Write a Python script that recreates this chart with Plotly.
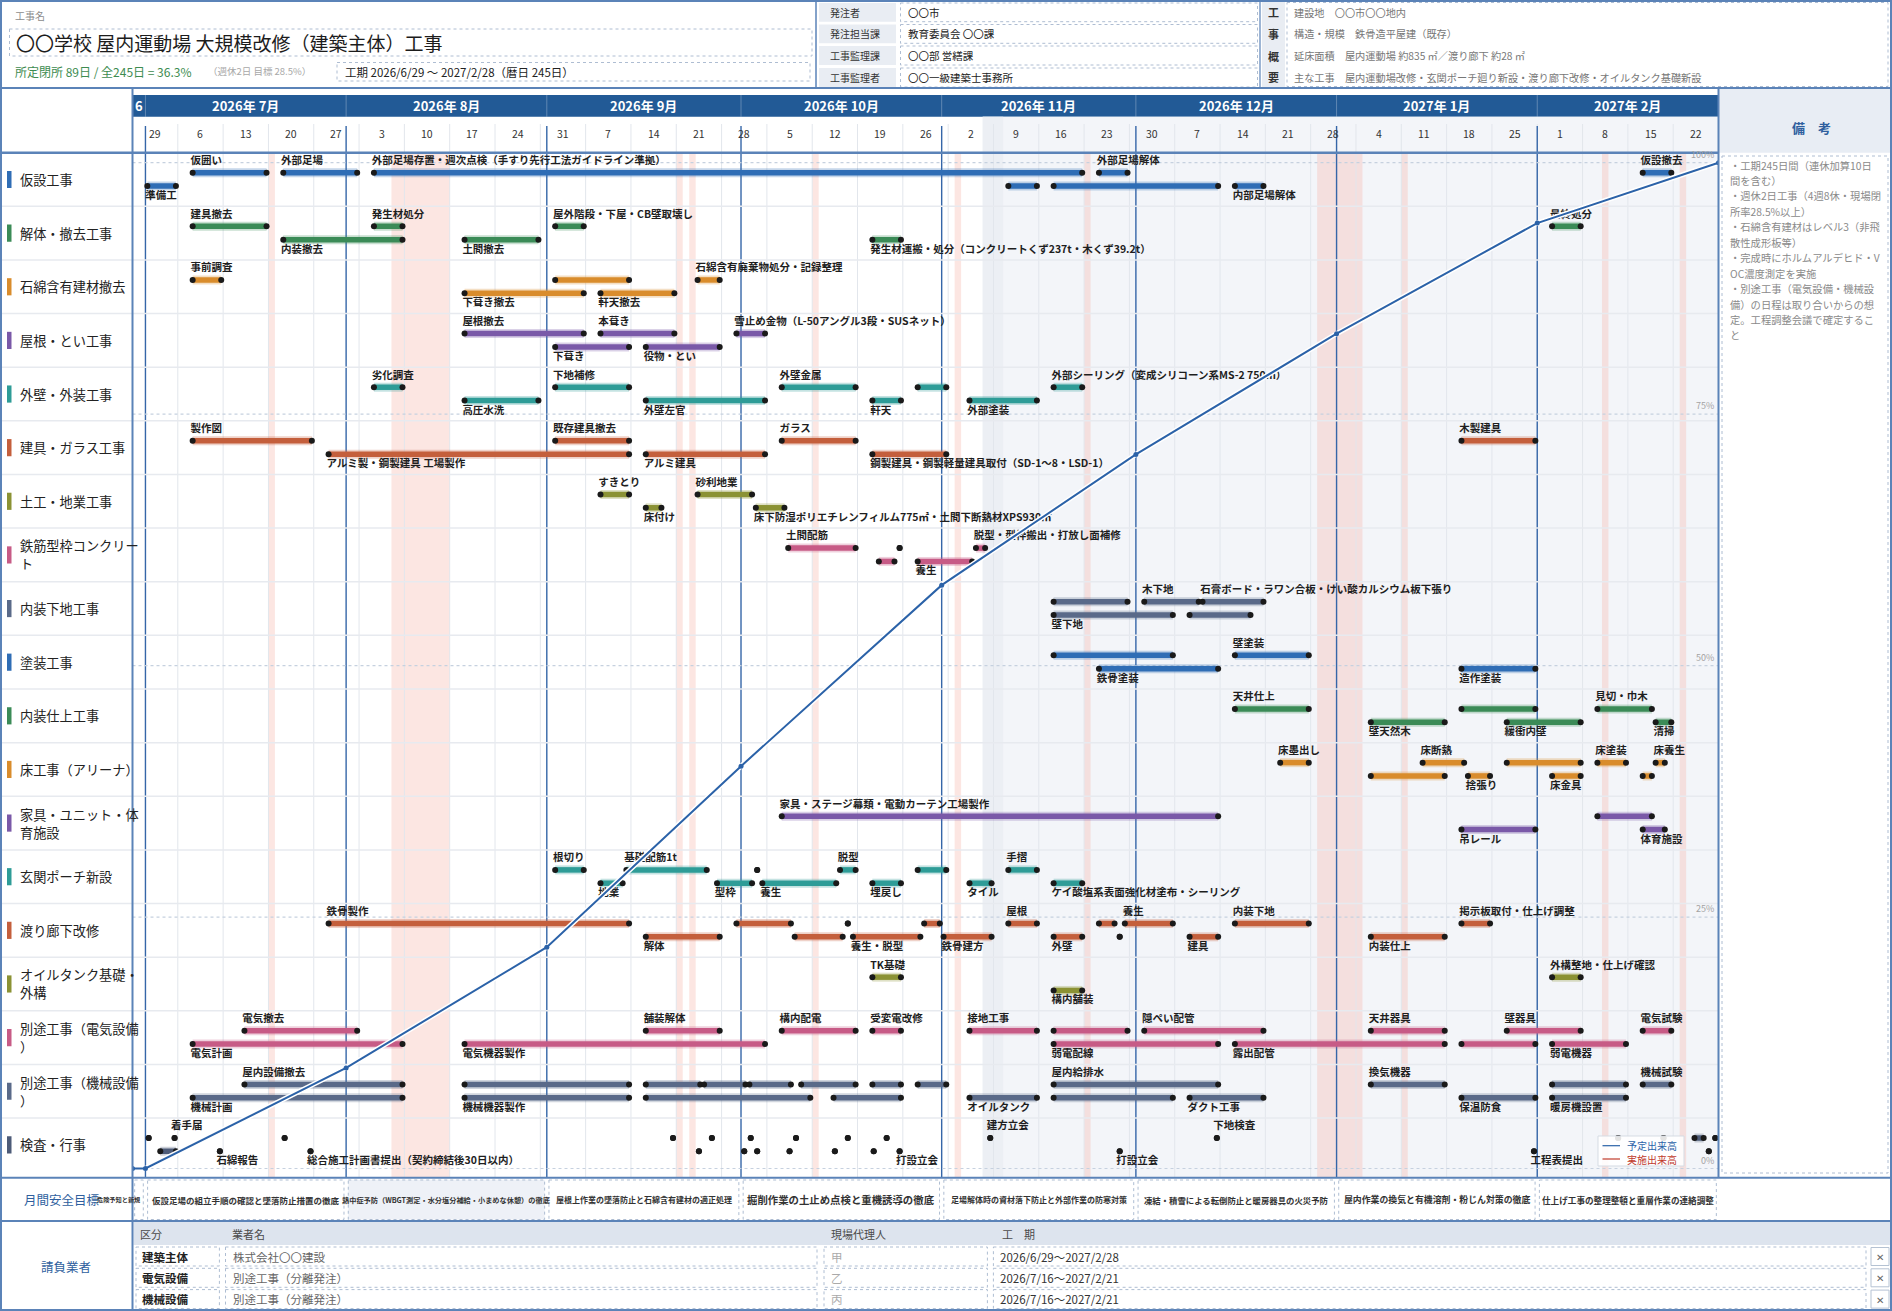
import pandas as pd
import plotly.graph_objects as go

W, H = 1892, 1311
FONT = "Noto Sans CJK JP"

# ============================ data ============================
PROJECT_LABEL = "工事名"
PROJECT_NAME = "〇〇学校 屋内運動場 大規模改修（建築主体）工事"
CLOSURE_TEXT = "所定閉所 89日 / 全245日 = 36.3%"
CLOSURE_SUB = "（週休2日 目標 28.5%）"
PERIOD_TEXT = "工期 2026/6/29 ～ 2027/2/28（暦日 245日）"

ORDER_LABELS = ["発注者", "発注担当課", "工事監理課", "工事監理者"]
ORDER_VALUES = ["〇〇市", "教育委員会 〇〇課", "〇〇部 営繕課", "〇〇一級建築士事務所"]
OUTLINE_HEAD = ["工", "事", "概", "要"]
OUTLINE_LINES = [
    "建設地　〇〇市〇〇地内",
    "構造・規模　鉄骨造平屋建（既存）",
    "延床面積　屋内運動場 約835 ㎡／渡り廊下 約28 ㎡",
    "主な工事　屋内運動場改修・玄関ポーチ廻り新設・渡り廊下改修・オイルタンク基礎新設",
]

MONTH_LABELS = ["6", "2026年 7月", "2026年 8月", "2026年 9月", "2026年 10月",
                "2026年 11月", "2026年 12月", "2027年 1月", "2027年 2月"]
MONTH_BOUNDS = ["2026-06-29", "2026-07-01", "2026-08-01", "2026-09-01", "2026-10-01",
                "2026-11-01", "2026-12-01", "2027-01-01", "2027-02-01", "2027-03-01"]
WEEK_LABELS = ["29", "6", "13", "20", "27", "3", "10", "17", "24", "31", "7", "14", "21", "28",
               "5", "12", "19", "26", "2", "9", "16", "23", "30", "7", "14", "21", "28",
               "4", "11", "18", "25", "1", "8", "15", "22"]
FIRST_WEEK = "2026-06-29"

HOLIDAYS = [("2026-07-20", "2026-07-20"), ("2026-08-08", "2026-08-16"),
            ("2026-09-21", "2026-09-21"), ("2026-09-23", "2026-09-23"),
            ("2026-10-12", "2026-10-12"), ("2026-11-03", "2026-11-03"),
            ("2026-11-23", "2026-11-23"), ("2026-12-29", "2027-01-04"),
            ("2027-01-11", "2027-01-11"), ("2027-02-11", "2027-02-11"),
            ("2027-02-23", "2027-02-23")]
SHADE_FROM = "2026-11-07"

ROWS = ["仮設工事", "解体・撤去工事", "石綿含有建材撤去", "屋根・とい工事", "外壁・外装工事",
        "建具・ガラス工事", "土工・地業工事", "鉄筋型枠コンクリート", "内装下地工事", "塗装工事",
        "内装仕上工事", "床工事（アリーナ）", "家具・ユニット・体育施設", "玄関ポーチ新設",
        "渡り廊下改修", "オイルタンク基礎・外構", "別途工事（電気設備）", "別途工事（機械設備）",
        "検査・行事"]

T01 = [("u", "2026-07-08", "2026-07-19", "仮囲い"),
       ("u", "2026-07-22", "2026-08-02", "外部足場"),
       ("u", "2026-08-05", "2026-11-22", "外部足場存置・週次点検（手すり先行工法ガイドライン準拠）"),
       ("u", "2026-11-25", "2026-11-29", "外部足場解体"),
       ("u", "2027-02-17", "2027-02-21", "仮設撤去"),
       ("l", "2026-07-01", "2026-07-05", "準備工"),
       ("l", "2026-11-11", "2026-11-15", ""),
       ("l", "2026-11-18", "2026-12-13", ""),
       ("l", "2026-12-16", "2026-12-20", "内部足場解体")]
T02 = [("u", "2026-07-08", "2026-07-19", "建具撤去"),
       ("u", "2026-08-05", "2026-08-09", "発生材処分"),
       ("u", "2026-09-02", "2026-09-06", "屋外階段・下屋・CB壁取壊し"),
       ("u", "2027-02-03", "2027-02-07", "最終処分"),
       ("l", "2026-07-22", "2026-08-09", "内装撤去"),
       ("l", "2026-08-19", "2026-08-30", "土間撤去"),
       ("l", "2026-10-21", "2026-10-25", "発生材運搬・処分（コンクリートくず237t・木くず39.2t）")]
T03 = [("u", "2026-07-08", "2026-07-12", "事前調査"),
       ("u", "2026-09-02", "2026-09-13", ""),
       ("u", "2026-09-24", "2026-09-27", "石綿含有廃棄物処分・記録整理"),
       ("l", "2026-08-19", "2026-09-06", "下葺き撤去"),
       ("l", "2026-09-09", "2026-09-20", "軒天撤去")]
T04 = [("u", "2026-08-19", "2026-09-06", "屋根撤去"),
       ("u", "2026-09-09", "2026-09-20", "本葺き"),
       ("u", "2026-09-30", "2026-10-04", "雪止め金物（L-50アングル3段・SUSネット）"),
       ("l", "2026-09-02", "2026-09-13", "下葺き"),
       ("l", "2026-09-16", "2026-09-27", "役物・とい")]
T05 = [("u", "2026-08-05", "2026-08-09", "劣化調査"),
       ("u", "2026-09-02", "2026-09-13", "下地補修"),
       ("u", "2026-10-07", "2026-10-18", "外壁金属"),
       ("u", "2026-10-28", "2026-11-01", ""),
       ("u", "2026-11-18", "2026-11-22", "外部シーリング（変成シリコーン系MS-2 750m）"),
       ("l", "2026-08-19", "2026-08-30", "高圧水洗"),
       ("l", "2026-09-16", "2026-10-04", "外壁左官"),
       ("l", "2026-10-21", "2026-10-25", "軒天"),
       ("l", "2026-11-05", "2026-11-15", "外部塗装")]
T06 = [("u", "2026-07-08", "2026-07-26", "製作図"),
       ("u", "2026-09-02", "2026-09-13", "既存建具撤去"),
       ("u", "2026-10-07", "2026-10-18", "ガラス"),
       ("u", "2027-01-20", "2027-01-31", "木製建具"),
       ("l", "2026-07-29", "2026-09-13", "アルミ製・鋼製建具 工場製作"),
       ("l", "2026-09-16", "2026-10-04", "アルミ建具"),
       ("l", "2026-10-21", "2026-11-01", "鋼製建具・鋼製軽量建具取付（SD-1～8・LSD-1）")]
T07 = [("u", "2026-09-09", "2026-09-13", "すきとり"),
       ("u", "2026-09-24", "2026-10-02", "砂利地業"),
       ("l", "2026-09-16", "2026-09-18", "床付け"),
       ("l", "2026-10-03", "2026-10-07", "床下防湿ポリエチレンフィルム775㎡・土間下断熱材XPS930㎡")]
T08 = [("u", "2026-10-08", "2026-10-18", "土間配筋"),
       ("u", "2026-10-25", "2026-10-25", ""),
       ("u", "2026-11-06", "2026-11-07", "脱型・型枠搬出・打放し面補修"),
       ("l", "2026-10-22", "2026-10-24", ""),
       ("l", "2026-10-28", "2026-11-05", "養生")]
T09 = [("u", "2026-11-18", "2026-11-29", ""),
       ("u", "2026-12-02", "2026-12-10", "木下地"),
       ("u", "2026-12-11", "2026-12-20", "石膏ボード・ラワン合板・けい酸カルシウム板下張り"),
       ("l", "2026-11-18", "2026-12-06", "壁下地"),
       ("l", "2026-12-09", "2026-12-18", "")]
T10 = [("u", "2026-11-18", "2026-12-06", ""),
       ("u", "2026-12-16", "2026-12-27", "壁塗装"),
       ("l", "2026-11-25", "2026-12-13", "鉄骨塗装"),
       ("l", "2027-01-20", "2027-01-31", "造作塗装")]
T11 = [("u", "2026-12-16", "2026-12-27", "天井仕上"),
       ("u", "2027-01-20", "2027-01-31", ""),
       ("u", "2027-02-10", "2027-02-18", "見切・巾木"),
       ("l", "2027-01-06", "2027-01-17", "壁天然木"),
       ("l", "2027-01-27", "2027-02-07", "緩衝内壁"),
       ("l", "2027-02-19", "2027-02-21", "清掃")]
T12 = [("u", "2026-12-23", "2026-12-27", "床墨出し"),
       ("u", "2027-01-14", "2027-01-20", "床断熱"),
       ("u", "2027-01-27", "2027-02-07", ""),
       ("u", "2027-02-10", "2027-02-14", "床塗装"),
       ("u", "2027-02-19", "2027-02-20", "床養生"),
       ("l", "2027-01-06", "2027-01-17", ""),
       ("l", "2027-01-21", "2027-01-24", "捨張り"),
       ("l", "2027-02-03", "2027-02-07", "床金具"),
       ("l", "2027-02-17", "2027-02-18", "")]
T13 = [("u", "2026-10-07", "2026-12-13", "家具・ステージ幕類・電動カーテン工場製作"),
       ("u", "2027-02-10", "2027-02-18", ""),
       ("l", "2027-01-20", "2027-01-31", "吊レール"),
       ("l", "2027-02-17", "2027-02-20", "体育施設")]
T14 = [("u", "2026-09-02", "2026-09-06", "根切り"),
       ("u", "2026-09-13", "2026-09-25", "基礎配筋1t"),
       ("u", "2026-10-03", "2026-10-03", ""),
       ("u", "2026-10-16", "2026-10-18", "脱型"),
       ("u", "2026-10-28", "2026-11-01", ""),
       ("u", "2026-11-11", "2026-11-15", "手摺"),
       ("l", "2026-09-09", "2026-09-12", "地業"),
       ("l", "2026-09-27", "2026-10-02", "型枠"),
       ("l", "2026-10-04", "2026-10-15", "養生"),
       ("l", "2026-10-21", "2026-10-25", "埋戻し"),
       ("l", "2026-11-05", "2026-11-08", "タイル"),
       ("l", "2026-11-18", "2026-11-22", "ケイ酸塩系表面強化材塗布・シーリング")]
T15 = [("u", "2026-07-29", "2026-09-13", "鉄骨製作"),
       ("u", "2026-09-30", "2026-10-08", ""),
       ("u", "2026-10-17", "2026-10-17", ""),
       ("u", "2026-10-29", "2026-10-31", ""),
       ("u", "2026-11-11", "2026-11-15", "屋根"),
       ("u", "2026-11-25", "2026-11-27", ""),
       ("u", "2026-11-29", "2026-12-06", "養生"),
       ("u", "2026-12-16", "2026-12-27", "内装下地"),
       ("u", "2027-01-20", "2027-01-24", "掲示板取付・仕上げ調整"),
       ("l", "2026-09-16", "2026-09-27", "解体"),
       ("l", "2026-10-09", "2026-10-16", ""),
       ("l", "2026-10-18", "2026-10-28", "養生・脱型"),
       ("l", "2026-11-01", "2026-11-08", "鉄骨建方"),
       ("l", "2026-11-18", "2026-11-22", "外壁"),
       ("l", "2026-11-28", "2026-11-28", ""),
       ("l", "2026-12-09", "2026-12-13", "建具"),
       ("l", "2027-01-06", "2027-01-17", "内装仕上")]
T16 = [("u", "2026-10-21", "2026-10-25", "TK基礎"),
       ("u", "2027-02-03", "2027-02-07", "外構整地・仕上げ確認"),
       ("l", "2026-11-18", "2026-11-22", "構内舗装")]
T17 = [("u", "2026-07-16", "2026-08-02", "電気撤去"),
       ("u", "2026-09-16", "2026-09-27", "舗装解体"),
       ("u", "2026-10-07", "2026-10-18", "構内配電"),
       ("u", "2026-10-21", "2026-10-25", "受変電改修"),
       ("u", "2026-11-05", "2026-11-15", "接地工事"),
       ("u", "2026-11-18", "2026-11-29", ""),
       ("u", "2026-12-02", "2026-12-20", "隠ぺい配管"),
       ("u", "2027-01-06", "2027-01-17", "天井器具"),
       ("u", "2027-01-27", "2027-02-07", "壁器具"),
       ("u", "2027-02-17", "2027-02-21", "電気試験"),
       ("l", "2026-07-08", "2026-08-09", "電気計画"),
       ("l", "2026-08-19", "2026-10-04", "電気機器製作"),
       ("l", "2026-11-18", "2026-12-13", "弱電配線"),
       ("l", "2026-12-16", "2027-01-17", "露出配管"),
       ("l", "2027-01-20", "2027-01-31", ""),
       ("l", "2027-02-03", "2027-02-14", "弱電機器")]
T18 = [("u", "2026-07-16", "2026-08-09", "屋内設備撤去"),
       ("u", "2026-08-19", "2026-09-13", ""),
       ("u", "2026-09-16", "2026-09-24", ""),
       ("u", "2026-09-25", "2026-10-01", ""),
       ("u", "2026-10-02", "2026-10-08", ""),
       ("u", "2026-10-10", "2026-10-18", ""),
       ("u", "2026-10-21", "2026-10-25", ""),
       ("u", "2026-10-28", "2026-11-01", ""),
       ("u", "2026-11-18", "2026-12-13", "屋内給排水"),
       ("u", "2027-01-06", "2027-01-17", "換気機器"),
       ("u", "2027-02-03", "2027-02-14", ""),
       ("u", "2027-02-17", "2027-02-21", "機械試験"),
       ("l", "2026-07-08", "2026-08-09", "機械計画"),
       ("l", "2026-08-19", "2026-09-13", "機械機器製作"),
       ("l", "2026-09-16", "2026-10-11", ""),
       ("l", "2026-10-15", "2026-10-25", ""),
       ("l", "2026-11-05", "2026-11-15", "オイルタンク"),
       ("l", "2026-11-18", "2026-12-06", ""),
       ("l", "2026-12-09", "2026-12-20", "ダクト工事"),
       ("l", "2027-01-20", "2027-01-31", "保温防食"),
       ("l", "2027-02-03", "2027-02-14", "暖房機設置")]
T19 = [("u", "2026-07-01", "2026-07-01", ""),
       ("u", "2026-07-05", "2026-07-05", "着手届"),
       ("u", "2026-07-22", "2026-07-22", ""),
       ("u", "2026-09-20", "2026-09-20", ""),
       ("u", "2026-09-26", "2026-09-26", ""),
       ("u", "2026-10-02", "2026-10-02", ""),
       ("u", "2026-10-09", "2026-10-09", ""),
       ("u", "2026-10-17", "2026-10-17", ""),
       ("u", "2026-10-23", "2026-10-23", ""),
       ("u", "2026-11-08", "2026-11-08", "建方立会"),
       ("u", "2026-12-13", "2026-12-13", "下地検査"),
       ("u", "2027-02-13", "2027-02-13", ""),
       ("u", "2027-02-20", "2027-02-20", ""),
       ("u", "2027-02-25", "2027-02-26", ""),
       ("u", "2027-02-28", "2027-02-28", ""),
       ("l", "2026-07-03", "2026-07-05", ""),
       ("l", "2026-07-12", "2026-07-12", "石綿報告"),
       ("l", "2026-07-26", "2026-07-26", "総合施工計画書提出（契約締結後30日以内）"),
       ("l", "2026-09-24", "2026-09-24", ""),
       ("l", "2026-10-01", "2026-10-01", ""),
       ("l", "2026-10-03", "2026-10-03", ""),
       ("l", "2026-10-08", "2026-10-08", ""),
       ("l", "2026-10-15", "2026-10-15", ""),
       ("l", "2026-10-21", "2026-10-21", ""),
       ("l", "2026-10-25", "2026-10-25", "打設立会"),
       ("l", "2026-11-28", "2026-11-28", "打設立会"),
       ("l", "2027-01-31", "2027-01-31", "工程表提出"),
       ("l", "2027-02-27", "2027-02-27", "")]
TASKS = [T01, T02, T03, T04, T05, T06, T07, T08, T09, T10,
         T11, T12, T13, T14, T15, T16, T17, T18, T19]

CURVE_DATES = ["2026-06-29", "2026-07-01", "2026-08-01", "2026-09-01", "2026-10-01",
               "2026-11-01", "2026-12-01", "2027-01-01", "2027-02-01", "2027-03-01"]
CURVE_PCT = [0, 0, 10, 22, 40, 58, 71, 83, 94, 100]
PCT_TICKS = [0, 25, 50, 75, 100]
LEGEND_ITEMS = ["予定出来高", "実施出来高"]

REMARKS = ["・工期245日間（連休加算10日", "間を含む）", "・週休2日工事（4週8休・現場閉",
           "所率28.5%以上）", "・石綿含有建材はレベル3（非飛", "散性成形板等）",
           "・完成時にホルムアルデヒド・V", "OC濃度測定を実施", "・別途工事（電気設備・機械設",
           "備）の日程は取り合いからの想", "定。工程調整会議で確定するこ", "と"]

SAFETY_TITLE = "月間安全目標"
SAFETY_GOALS = ["危険予知と新規",
                "仮設足場の組立手順の確認と墜落防止措置の徹底",
                "熱中症予防（WBGT測定・水分塩分補給・小まめな休憩）の徹底",
                "屋根上作業の墜落防止と石綿含有建材の適正処理",
                "掘削作業の土止め点検と重機誘導の徹底",
                "足場解体時の資材落下防止と外部作業の防寒対策",
                "凍結・積雪による転倒防止と暖房器具の火災予防",
                "屋内作業の換気と有機溶剤・粉じん対策の徹底",
                "仕上げ工事の整理整頓と重層作業の連絡調整"]

CT_TITLE = "請負業者"
CT_HEAD = ["区分", "業者名", "現場代理人", "工　期"]
CT_KUBUN = ["建築主体", "電気設備", "機械設備"]
CT_NAME = ["株式会社〇〇建設", "別途工事（分離発注）", "別途工事（分離発注）"]
CT_AGENT = ["甲", "乙", "丙"]
CT_PERIOD = ["2026/6/29～2027/2/28", "2026/7/16～2027/2/21", "2026/7/16～2027/2/21"]

# ============================ style ============================
ROW_COLORS = ["#2f6db5", "#3b8b57", "#d98c2c", "#7a59a8", "#2e9c97", "#c45f3c", "#8b9234",
              "#c75b86", "#5a6a89", "#2f6db5", "#3b8b57", "#d98c2c", "#7a59a8", "#2e9c97",
              "#c45f3c", "#8b9234", "#c75b86", "#5a6a89", "#4d5b78"]
SAFETY_SIZES = [6.2, 8.5, 7.2, 8.0, 10.4, 8.0, 8.4, 8.9, 8.6]
BORDER = "#5b83b8"
DASHC = "#aebdd2"
NAVY = "#2f5f9e"

X0, X1 = 132.5, 1718.5
Y_TOP, ROW_H, Y_BOT = 152.7, 53.63, 1177.7
P0_Y, P100_Y = 1168.5, 162.7
LANE_U, LANE_L = 0.373, 0.621
LAB_U, LAB_L = 0.163, 0.815
ROWLAB_SIZE = 13.2
ROWLAB_GAP = 18.0 / ROW_H

shapes, annots = [], []


def fx(x):
    return x / W


def fy(y):
    return 1 - y / H


def rect(x0, y0, x1, y1, fill=None, line=None, width=1, dash=None, layer="below",
         xref="paper", yref="paper"):
    if xref == "paper":
        x0, x1 = fx(x0), fx(x1)
    if yref == "paper":
        y0, y1 = fy(y0), fy(y1)
    ln = dict(color=line if line else "rgba(0,0,0,0)", width=width if line else 0)
    if dash:
        ln["dash"] = dash
    shapes.append(dict(type="rect", xref=xref, yref=yref, x0=x0, x1=x1, y0=y0, y1=y1,
                       fillcolor=fill if fill else "rgba(0,0,0,0)", line=ln, layer=layer))


def seg(x0, y0, x1, y1, color, width=1, dash=None, layer="below", xref="paper", yref="paper"):
    if xref == "paper":
        x0, x1 = fx(x0), fx(x1)
    if yref == "paper":
        y0, y1 = fy(y0), fy(y1)
    ln = dict(color=color, width=width)
    if dash:
        ln["dash"] = dash
    shapes.append(dict(type="line", xref=xref, yref=yref, x0=x0, x1=x1, y0=y0, y1=y1,
                       line=ln, layer=layer))


def txt(x, y, s, size=11, color="#222", xanchor="left", yanchor="middle",
        xref="paper", yref="paper", bold=False):
    if xref == "paper":
        x = fx(x)
    if yref == "paper":
        y = fy(y)
    annots.append(dict(x=x, y=y, xref=xref, yref=yref, text=("<b>%s</b>" % s) if bold else s,
                       showarrow=False, xanchor=xanchor, yanchor=yanchor,
                       font=dict(size=size, color=color, family=FONT)))


def ts(s, hours=0.0):
    return (pd.Timestamp(s) + pd.Timedelta(hours=hours)).strftime("%Y-%m-%d %H:%M:%S")


def hexrgba(c, a):
    c = c.lstrip("#")
    return "rgba(%d,%d,%d,%.2f)" % (int(c[0:2], 16), int(c[2:4], 16), int(c[4:6], 16), a)


# ============================ header ============================
txt(13, 16, PROJECT_LABEL, 10, "#8c8c8c")
rect(9.5, 29, 812, 56, line=DASHC, dash="dot", layer="above")
txt(14, 42.5, PROJECT_NAME, 19, "#1c1c1c")
txt(13, 71.5, CLOSURE_TEXT, 12, "#3d8c50")
txt(206, 71.5, CLOSURE_SUB, 9.5, "#a8a8a8")
rect(337, 62.5, 810, 81, line=DASHC, dash="dot", layer="above")
txt(343, 72, PERIOD_TEXT, 11.5, "#222")

row_y = [(3, 21.7), (24.5, 43.3), (46, 65), (68, 87)]
for (a, b), lab, val in zip(row_y, ORDER_LABELS, ORDER_VALUES):
    rect(819, a, 896, b, fill="#e9edf3")
    txt(828, (a + b) / 2, lab, 10, "#333")
    rect(900.5, a, 1257.5, b, line=DASHC, dash="dot", layer="above")
    txt(906, (a + b) / 2, val, 10.5, "#222")
rect(1262, 0, 1285, 88, fill="#e9edf3")
rect(1287, 2.5, 1888, 86.5, line=DASHC, dash="dot", layer="above")
for (a, b), ch, ln in zip(row_y, OUTLINE_HEAD, OUTLINE_LINES):
    txt(1273.5, (a + b) / 2, ch, 11, "#333", xanchor="center", bold=True)
    txt(1292, (a + b) / 2, ln, 10.2, "#777")

# ============================ timeline header ============================
rect(X0, 95, X1, 116.7, fill="#225a96")
rect(X1, 89, W, Y_TOP, fill="#e8edf4")
txt(1811, 127, "備　考", 13, NAVY, xanchor="center", bold=True)

rect(ts(SHADE_FROM, 8), 1177.7, ts(MONTH_BOUNDS[-1]), 116.7, fill="#f3f5f9", xref="x")
rect(ts(SHADE_FROM, 8), 1177.7, ts(SHADE_FROM, 84), 116.7, fill="#eceff4", xref="x")

for a, b in HOLIDAYS:
    rect(ts(a), Y_BOT, ts(b, 24), Y_TOP, fill="rgba(248,185,175,0.36)", xref="x")

week_starts = pd.date_range(FIRST_WEEK, periods=len(WEEK_LABELS), freq="7D")
for i, (wk, lab) in enumerate(zip(week_starts, WEEK_LABELS)):
    if i > 0:
        seg(ts(wk), 124, ts(wk), Y_BOT, "#e2e6ec", 1, xref="x")
    txt(ts(wk, 84), 133.5, lab, 10.5, "#333", xanchor="center", xref="x")

for i, lab in enumerate(MONTH_LABELS):
    a, b = pd.Timestamp(MONTH_BOUNDS[i]), pd.Timestamp(MONTH_BOUNDS[i + 1])
    mid = a + (b - a) / 2
    txt(mid.strftime("%Y-%m-%d %H:%M:%S"), 106, lab, 13, "white", xanchor="center",
        xref="x", bold=True)
    if i > 0:
        seg(ts(a), 95, ts(a), 116.7, "rgba(255,255,255,0.28)", 1, xref="x")
        seg(ts(a), 126, ts(a), Y_BOT, "#3566a8", 1.4, xref="x")

for i in range(1, len(ROWS)):
    seg(0, i, X1, i, "#e7eaef", 1.5, yref="y")

for p in PCT_TICKS:
    seg(X0, p, X1, p, "#c6d1df", 1.2, dash="dot", yref="y2")
    annots.append(dict(x=fx(1716), y=p, xref="paper", yref="y2", text="%d%%" % p,
                       showarrow=False, xanchor="right", yanchor="bottom",
                       font=dict(size=9, color="#a3a3a3", family=FONT)))

for i, (name, col) in enumerate(zip(ROWS, ROW_COLORS)):
    rect(7, i + 0.5 - 0.16, 11.5, i + 0.5 + 0.16, fill=col, yref="y")
    parts = [name[:9], name[9:]] if len(name) > 9 else [name]
    for k, p in enumerate(parts):
        off = (k - (len(parts) - 1) / 2) * ROWLAB_GAP
        annots.append(dict(x=fx(18), y=i + 0.5 + off, xref="paper", yref="y",
                           text=p, showarrow=False, xanchor="left", yanchor="middle",
                           font=dict(size=ROWLAB_SIZE, color="#222", family=FONT)))

seg(0, 88, W, 88, BORDER, 2, layer="above")
seg(816, 0, 816, 88, BORDER, 1.5, layer="above")
seg(1260, 0, 1260, 88, BORDER, 1.2, layer="above")
seg(0, Y_TOP, X1, Y_TOP, BORDER, 2.5, layer="above")
seg(0, Y_BOT, W, Y_BOT, BORDER, 2, layer="above")
seg(0, 1221, W, 1221, BORDER, 2, layer="above")
seg(X0, 88, X0, H, BORDER, 2, layer="above")
seg(X1, 88, X1, Y_BOT, BORDER, 2, layer="above")
rect(1, 1, W - 1, H - 1, line=BORDER, width=2, layer="above")

rect(1722, 156, 1888, 1173, line=DASHC, dash="dot", layer="above")
for k, ln in enumerate(REMARKS):
    txt(1728, 165 + k * 15.45, ln, 10.3, "#8a8a8a")

# ============================ safety goals ============================
txt(62, 1199.5, SAFETY_TITLE, 12.5, NAVY, xanchor="center")
for i, (goal, sz) in enumerate(zip(SAFETY_GOALS, SAFETY_SIZES)):
    a, b = pd.Timestamp(MONTH_BOUNDS[i]), pd.Timestamp(MONTH_BOUNDS[i + 1])
    fill = "#eef1f7" if i == 2 else "white"
    rect(ts(a, 8), 1180, ts(b, -8), 1219.5, fill=fill, line=DASHC, dash="dot",
         xref="x", layer="above")
    if i == 0:
        txt(ts(b, -8), 1199.5, goal, sz, "#333", xanchor="right", xref="x", bold=True)
    else:
        mid = a + (b - a) / 2
        txt(mid.strftime("%Y-%m-%d %H:%M:%S"), 1199.5, goal, sz, "#333",
            xanchor="center", xref="x", bold=True)

# ============================ contractors ============================
txt(66, 1266, CT_TITLE, 12.5, NAVY, xanchor="center")
rect(133.5, 1222, W - 1.5, 1245, fill="#dde4ee")
for x, h in zip([138, 230, 829, 1000], CT_HEAD):
    txt(x, 1234, h, 11, "#4a4a4a")
for k in range(len(CT_KUBUN)):
    yc = 1256.5 + k * 21.3
    rect(136, yc - 9.5, 219.4, yc + 9.5, line=DASHC, dash="dot", layer="above")
    rect(225.5, yc - 9.5, 817, yc + 9.5, line=DASHC, dash="dot", layer="above")
    rect(824, yc - 9.5, 987.4, yc + 9.5, line=DASHC, dash="dot", layer="above")
    rect(993.4, yc - 9.5, 1866, yc + 9.5, line=DASHC, dash="dot", layer="above")
    rect(1871, yc - 9, 1889, yc + 9, line="#b5c2d3", layer="above")
    txt(140, yc, CT_KUBUN[k], 11.5, "#222", bold=True)
    txt(231, yc, CT_NAME[k], 11.5, "#666")
    txt(829, yc, CT_AGENT[k], 11.5, "#aaa")
    txt(998, yc, CT_PERIOD[k], 11.5, "#333")
    txt(1880, yc, "✕", 10, "#666", xanchor="center")

rect(1598, 1136, 1684, 1166, fill="rgba(255,255,255,0.88)", line="#d5dbe3", layer="above")
seg(1602.5, 1145.7, 1620, 1145.7, "#2b62a8", 1.2, layer="above")
seg(1602.5, 1159, 1620, 1159, "#c0392b", 1.2, layer="above")
txt(1624.5, 1145.7, LEGEND_ITEMS[0], 10, "#2b62a8")
txt(1624.5, 1159, LEGEND_ITEMS[1], 10, "#c0392b")

# ============================ traces ============================
fig = go.Figure()
lab_x, lab_y, lab_t = [], [], []
for i, tasks in enumerate(TASKS):
    xs, ys = [], []
    for lane, s, e, lab in tasks:
        y = i + (LANE_U if lane == "u" else LANE_L)
        if s == e:
            xa = xb = ts(s, 12)
        else:
            xa, xb = ts(s, 7), ts(e, 17)
        xs += [xa, xb, None]
        ys += [y, y, None]
        if lab:
            lab_x.append(ts(s, -1))
            lab_y.append(i + (LAB_U if lane == "u" else LAB_L))
            lab_t.append(lab)
    col = ROW_COLORS[i]
    fig.add_trace(go.Scatter(x=xs, y=ys, mode="lines", hoverinfo="skip",
                             line=dict(color=hexrgba(col, 0.28), width=9)))
    fig.add_trace(go.Scatter(x=xs, y=ys, mode="lines+markers", hoverinfo="skip",
                             line=dict(color=col, width=5.5),
                             marker=dict(color="#1a1a1a", size=6)))

fig.add_trace(go.Scatter(x=lab_x, y=lab_y, text=lab_t, mode="text", hoverinfo="skip",
                         textposition="middle right", cliponaxis=False,
                         textfont=dict(size=10.5, color="#1e1e1e", family=FONT,
                                       weight="bold")))

fig.add_trace(go.Scatter(x=CURVE_DATES, y=CURVE_PCT, yaxis="y2", mode="lines",
                         hoverinfo="skip", line=dict(color="white", width=5)))
fig.add_trace(go.Scatter(x=CURVE_DATES, y=CURVE_PCT, yaxis="y2", mode="lines+markers",
                         hoverinfo="skip", line=dict(color="#2b62a8", width=2),
                         marker=dict(color="#2b62a8", size=5)))

n_rows_span = (Y_BOT - Y_TOP) / ROW_H
k = (P0_Y - P100_Y) / 100.0
fig.update_layout(
    width=W, height=H, margin=dict(l=0, r=0, t=0, b=0),
    paper_bgcolor="white", plot_bgcolor="rgba(0,0,0,0)",
    showlegend=False, font=dict(family=FONT),
    xaxis=dict(type="date", range=[MONTH_BOUNDS[0], MONTH_BOUNDS[-1]],
               domain=[fx(X0), fx(X1)], showgrid=False, showticklabels=False,
               zeroline=False, showline=False, fixedrange=True),
    yaxis=dict(range=[n_rows_span, 0], domain=[fy(Y_BOT), fy(Y_TOP)], showgrid=False,
               showticklabels=False, zeroline=False, showline=False, fixedrange=True),
    yaxis2=dict(overlaying="y", range=[-(Y_BOT - P0_Y) / k, 100 + (P100_Y - Y_TOP) / k],
                showgrid=False, showticklabels=False, zeroline=False, showline=False,
                fixedrange=True, visible=False),
    shapes=shapes, annotations=annots,
)

fig.write_html("out.html", config={"displayModeBar": False},
               post_script="document.body.style.margin='0';")
